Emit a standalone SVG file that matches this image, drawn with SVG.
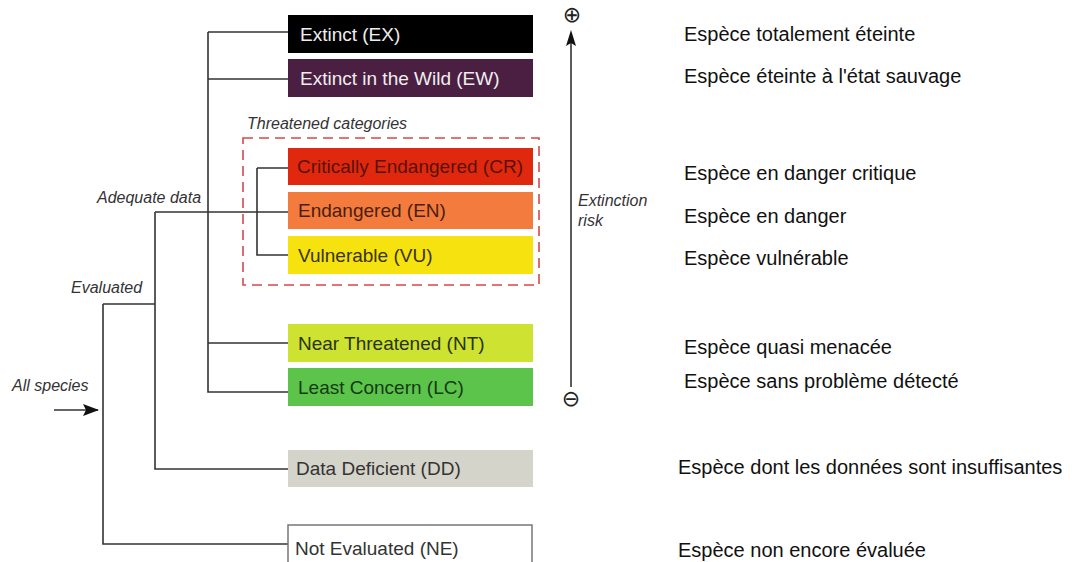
<svg xmlns="http://www.w3.org/2000/svg" width="1088" height="562" viewBox="0 0 1088 562">
<style>
.box{stroke:none}
.bt{font-family:"Liberation Sans",Arial,sans-serif;font-size:19px}
.lbl{font-family:"Liberation Sans",Arial,sans-serif;font-size:16px;font-style:italic;fill:#333}
.fr{font-family:"Liberation Sans",Arial,sans-serif;font-size:20px;fill:#111}
.ln{stroke:#333;stroke-width:1.6;fill:none}
.sym{font-family:"DejaVu Sans",sans-serif;font-size:22px;fill:#222;text-anchor:middle}
</style>
<defs>
<marker id="ah2" markerWidth="16" markerHeight="12" refX="15" refY="6" orient="auto" markerUnits="userSpaceOnUse">
<path d="M0,0 L16,6 L0,12 L3,6 Z" fill="#111"/>
</marker>
</defs>
<rect width="1088" height="562" fill="#fff"/>

<g id="connectors">
<path class="ln" d="M103,304 V544 H288 M103,304 H155"/>
<path class="ln" d="M155,212 V469 H288 M155,212 H288"/>
<path class="ln" d="M208,32 V392 H288 M208,32 H288 M208,79 H288 M208,343 H288"/>
<path class="ln" d="M257,168 V255 H288 M257,168 H288"/>
<line class="ln" x1="54" y1="410" x2="98" y2="410" stroke="#111" marker-end="url(#ah2)"/>
</g>

<g id="threatened">
<rect x="243" y="138" width="296" height="147" fill="none" stroke="#d44a4a" stroke-width="1.6" stroke-dasharray="10 6"/>
<text class="lbl" x="247" y="129">Threatened categories</text>
</g>

<g id="EX"><rect class="box" x="288" y="15" width="245" height="38" fill="#000"/><text class="bt" x="300" y="41" fill="#eee">Extinct (EX)</text></g>
<g id="EW"><rect class="box" x="288" y="59" width="245" height="38" fill="#4b1f42"/><text class="bt" x="300" y="85" fill="#eee">Extinct in the Wild (EW)</text></g>
<g id="CR"><rect class="box" x="288" y="148" width="245" height="37" fill="#e0280f"/><text class="bt" x="297" y="173" fill="#5a1208">Critically Endangered (CR)</text></g>
<g id="EN"><rect class="box" x="288" y="192" width="245" height="37" fill="#f47b3e"/><text class="bt" x="298" y="217" fill="#4a2010">Endangered (EN)</text></g>
<g id="VU"><rect class="box" x="288" y="236" width="245" height="38" fill="#f5e20f"/><text class="bt" x="298" y="262" fill="#3a3410">Vulnerable (VU)</text></g>
<g id="NT"><rect class="box" x="288" y="324" width="245" height="38" fill="#cde231"/><text class="bt" x="298" y="350" fill="#2a3310">Near Threatened (NT)</text></g>
<g id="LC"><rect class="box" x="288" y="368" width="245" height="38" fill="#5cc44b"/><text class="bt" x="298" y="394" fill="#143a14">Least Concern (LC)</text></g>
<g id="DD"><rect class="box" x="288" y="450" width="245" height="37" fill="#d5d4ca"/><text class="bt" x="296" y="475" fill="#333">Data Deficient (DD)</text></g>
<g id="NE"><rect x="288" y="525" width="244" height="42" fill="#fff" stroke="#777" stroke-width="1.5"/><text class="bt" x="295" y="555" fill="#333">Not Evaluated (NE)</text></g>

<g id="labels">
<text class="lbl" x="97" y="203">Adequate data</text>
<text class="lbl" x="71" y="293">Evaluated</text>
<text class="lbl" x="12" y="391">All species</text>
</g>

<g id="axis">
<line class="ln" x1="571" y1="387" x2="571" y2="42" stroke="#222"/>
<path d="M571,30 L576,46 L571,43 L566,46 Z" fill="#111"/>
<text class="sym" x="572" y="22">⊕</text>
<text class="sym" x="571" y="406">⊖</text>
<text class="lbl" x="578" y="206">Extinction</text>
<text class="lbl" x="578" y="226">risk</text>
</g>

<g id="descriptions">
<text class="fr" x="684" y="41">Espèce totalement éteinte</text>
<text class="fr" x="684" y="83">Espèce éteinte à l'état sauvage</text>
<text class="fr" x="684" y="180">Espèce en danger critique</text>
<text class="fr" x="684" y="223">Espèce en danger</text>
<text class="fr" x="684" y="265">Espèce vulnérable</text>
<text class="fr" x="684" y="354">Espèce quasi menacée</text>
<text class="fr" x="684" y="388">Espèce sans problème détecté</text>
<text class="fr" x="678" y="474">Espèce dont les données sont insuffisantes</text>
<text class="fr" x="678" y="557">Espèce non encore évaluée</text>
</g>
</svg>
